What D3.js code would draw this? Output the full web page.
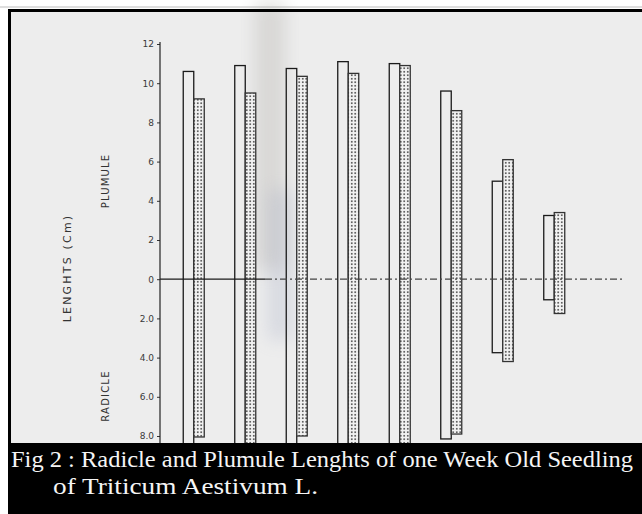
<!DOCTYPE html>
<html>
<head>
<meta charset="utf-8">
<script src="https://cdn.jsdelivr.net/npm/d3@7"></script>
<style>
	html,body{margin:0;padding:0;background:#fff;}
	svg{display:block;}
</style>
</head>
<body>
<svg id="chart" width="642" height="514"></svg>
<script>
// one week old seedlings, pairs of bars per treatment
const treatments = ['T1','T2','T3','T4','T5','T6','T7','T8'];
// clear (open) bars
const plumuleOpen = [10.6, 10.9, 10.75, 11.1, 11.0, 9.6, 5.0, 3.25];
const radicleOpen = [8.6, 8.6, 8.6, 8.6, 8.6, 8.15, 3.75, 1.05];
// dotted bars
const plumuleDotted = [9.2, 9.5, 10.35, 10.5, 10.9, 8.6, 6.1, 3.4];
const radicleDotted = [8.05, 8.6, 8.0, 8.6, 8.6, 7.9, 4.2, 1.75];
const yTicks = [12,10,8,6,4,2,0,-2,-4,-6,-8];

const svg = d3.select('#chart');
const W = 642, H = 514;

// scanned paper
svg.append('rect').attr('x',8).attr('y',9).attr('width',W-8).attr('height',434).attr('fill','#ededed');
svg.append('rect').attr('x',0).attr('y',6).attr('width',W).attr('height',2).attr('fill','#dedede');

const defs = svg.append('defs');
defs.append('filter').attr('id','blur')
	.attr('x','-50%').attr('y','-20%').attr('width','200%').attr('height','140%')
	.append('feGaussianBlur').attr('stdDeviation',9);
const pat = defs.append('pattern')
	.attr('id','dots')
	.attr('patternUnits','userSpaceOnUse')
	.attr('width',3.5).attr('height',3.5);
pat.append('rect').attr('width',3.5).attr('height',3.5).attr('fill','#f2f2f2');
pat.append('circle').attr('cx',1.75).attr('cy',1.75).attr('r',0.85).attr('fill','#2e2e2e');

// crease / smudges from the scan
svg.append('rect').attr('x',255).attr('y',0).attr('width',30).attr('height',270)
	.attr('fill','#b0ada8').attr('opacity',0.35).attr('filter','url(#blur)');
svg.append('rect').attr('x',268).attr('y',190).attr('width',24).attr('height',150)
	.attr('fill','#a3aac2').attr('opacity',0.3).attr('filter','url(#blur)');

const y = d3.scaleLinear().domain([-8,12]).range([436,44]);
const x = d3.scaleBand().domain(treatments).range([168,580]);
const sub = d3.scaleBand().domain(['open','dotted'])
	.range([x.bandwidth()/2-10.5, x.bandwidth()/2+10.5]);

const bars = [];
treatments.forEach((t,i)=>{
	bars.push({t:t,kind:'open',top:plumuleOpen[i],bottom:-radicleOpen[i]});
	bars.push({t:t,kind:'dotted',top:plumuleDotted[i],bottom:-radicleDotted[i]});
});

svg.append('g').classed('bars',true)
	.selectAll('rect.bar')
	.data(bars)
	.join('rect')
		.classed('bar',true)
		.attr('x',d=>x(d.t)+sub(d.kind))
		.attr('width',sub.bandwidth())
		.attr('y',d=>y(d.top))
		.attr('height',d=>y(d.bottom)-y(d.top))
		.attr('fill',d=>d.kind=='dotted' ? 'url(#dots)' : 'none')
		.attr('stroke',d=>d.kind=='dotted' ? '#333' : '#1a1a1a')
		.attr('stroke-width',1.3);

// zero line
const x0 = 160, x1 = 625;
svg.append('line')
	.attr('x1',x0).attr('x2',265).attr('y1',y(0)).attr('y2',y(0))
	.attr('stroke','#1a1a1a').attr('stroke-width',1.3);
svg.append('line')
	.attr('x1',265).attr('x2',x1).attr('y1',y(0)).attr('y2',y(0))
	.attr('stroke','#444').attr('stroke-width',1.2)
	.attr('stroke-dasharray','7,3,2,3');

// y axis
const axis = d3.axisLeft(y)
	.tickValues(yTicks)
	.tickSize(3)
	.tickFormat(d=> d<0 ? Math.abs(d).toFixed(1) : d);
const ax = svg.append('g').classed('axes',true)
	.attr('transform','translate('+x0+',0)')
	.call(axis);
ax.select('.domain').remove();
ax.append('line').attr('y1',42).attr('y2',443).attr('stroke','#222').attr('stroke-width',1.2);
ax.selectAll('.tick line').attr('stroke','#333');
ax.selectAll('.tick text')
	.attr('x',-6)
	.attr('fill','#3a3a3a')
	.style('font-family','DejaVu Sans')
	.style('font-size','9px');

// axis titles
const vtext = (txt,cx,cy,size,spacing)=>{
	svg.append('text')
		.attr('transform','translate('+cx+','+cy+') rotate(-90)')
		.attr('text-anchor','middle')
		.attr('dominant-baseline','central')
		.attr('fill','#333')
		.style('font-family','DejaVu Sans')
		.style('font-size',size+'px')
		.style('letter-spacing',spacing+'px')
		.text(txt);
};
vtext('LENGHTS (Cm)',67,268,11,2.2);
vtext('PLUMULE',105,181,10,1.2);
vtext('RADICLE',105,396,10,1.2);

// frame
svg.append('rect').attr('x',8).attr('y',9).attr('width',W-8).attr('height',3).attr('fill','#000');
svg.append('rect').attr('x',8).attr('y',9).attr('width',3).attr('height',434).attr('fill','#000');

// caption band
svg.append('rect').attr('x',8).attr('y',443).attr('width',W-8).attr('height',H-443).attr('fill','#000');
const caption = [
	{txt:'Fig 2 : Radicle and Plumule Lenghts of one Week Old Seedling',x:11,y:467,len:622},
	{txt:'of Triticum Aestivum L.',x:53,y:494,len:265}
];
svg.selectAll('text.caption')
	.data(caption)
	.join('text')
		.classed('caption',true)
		.attr('x',d=>d.x)
		.attr('y',d=>d.y)
		.attr('textLength',d=>d.len)
		.attr('lengthAdjust','spacingAndGlyphs')
		.attr('fill','#f5f5f5')
		.style('font-family','Liberation Serif')
		.style('font-size','24px')
		.text(d=>d.txt);
</script>
</body>
</html>
